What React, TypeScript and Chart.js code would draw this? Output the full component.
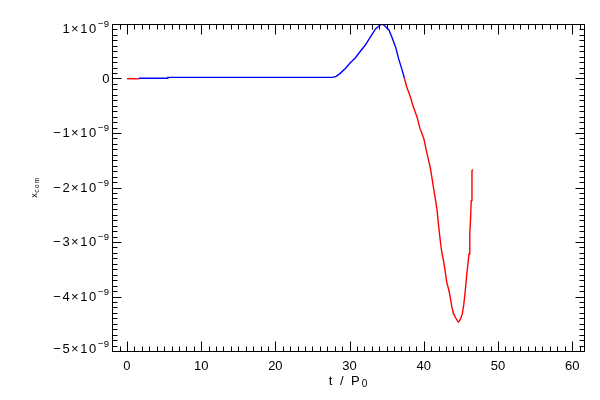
import { useEffect, useRef } from "react";
import { Chart, registerables } from "chart.js";

Chart.register(...registerables);

// time in units of P0
const T = [
  0, 1.6, 1.7, 5.4, 5.5, 27.7, 28.2, 28.7, 29.4, 30.1, 30.8, 31.4, 32.1, 32.8,
  33.5, 34.1, 34.4, 34.8, 35.3, 35.7, 36.2, 36.6, 37.1, 37.4, 37.7, 38.2, 38.6,
  39.1, 39.5, 40.0, 40.4, 40.9, 41.3, 41.6, 41.8, 42.0, 42.2, 42.4, 42.7, 42.9,
  43.1, 43.4, 43.6, 43.8, 44.0, 44.3, 44.6, 44.7, 44.9, 45.2, 45.4, 45.6, 45.8,
  46.1, 46.2, 46.3, 46.4, 46.5, 46.6,
];
// x_com in units of 1e-9
const XCOM = [
  -0.005, -0.005, 0.005, 0.005, 0.02, 0.02, 0.04, 0.09, 0.18, 0.29, 0.38, 0.49,
  0.61, 0.76, 0.91, 0.98, 1.0, 0.96, 0.89, 0.76, 0.58, 0.37, 0.15, 0, -0.15,
  -0.34, -0.52, -0.71, -0.92, -1.1, -1.35, -1.65, -1.99, -2.24, -2.42, -2.7,
  -2.94, -3.16, -3.37, -3.55, -3.74, -3.89, -4.04, -4.2, -4.31, -4.39, -4.46,
  -4.47, -4.43, -4.32, -4.14, -3.89, -3.59, -3.22, -2.85, -2.6, -2.24, -1.69,
  -1.67,
];
const UNIT = 1e-9;

const X_MIN = -2.02;
const X_MAX = 61.6;
const Y_MIN = -5e-9;
const Y_MAX = 1e-9;
const X_MAJOR = [0, 10, 20, 30, 40, 50, 60];
const Y_MAJOR_MANT = [1, 0, -1, -2, -3, -4, -5];

const FONT = "'Liberation Sans', Arial, sans-serif";

const idlAxes = {
  id: "idlAxes",
  afterDraw(chart: any) {
    const ctx: CanvasRenderingContext2D = chart.ctx;
    const { left, right, top, bottom } = chart.chartArea;
    const xs = chart.scales.x;
    const ys = chart.scales.y;
    const L = Math.round(left) + 0.5;
    const R = Math.round(right) + 0.5;
    const Tp = Math.round(top) + 0.5;
    const B = Math.round(bottom) + 0.5;
    ctx.save();
    ctx.strokeStyle = "#000";
    ctx.fillStyle = "#000";
    ctx.lineWidth = 1;
    ctx.beginPath();
    ctx.rect(L, Tp, R - L, B - Tp);
    // x ticks (minor every 1, major every 10)
    for (let v = Math.ceil(X_MIN); v <= Math.floor(X_MAX); v++) {
      const len = v % 10 === 0 ? 10 : 5;
      const px = Math.round(xs.getPixelForValue(v)) + 0.5;
      ctx.moveTo(px, B);
      ctx.lineTo(px, B - len);
      ctx.moveTo(px, Tp);
      ctx.lineTo(px, Tp + len);
    }
    // y ticks (minor every 1e-10, major every 1e-9)
    for (let k = -50; k <= 10; k++) {
      const len = k % 10 === 0 ? 9 : 5;
      const py = Math.round(ys.getPixelForValue(k * 1e-10)) + 0.5;
      ctx.moveTo(L, py);
      ctx.lineTo(L + len, py);
      ctx.moveTo(R, py);
      ctx.lineTo(R - len, py);
    }
    ctx.stroke();

    // x tick labels
    ctx.textAlign = "center";
    ctx.textBaseline = "alphabetic";
    ctx.font = `13px ${FONT}`;
    for (const v of X_MAJOR) {
      ctx.fillText(String(v), xs.getPixelForValue(v), bottom + 18.5);
    }

    // y tick labels with superscript exponent
    ctx.textAlign = "left";
    const rightEdge = left - 2.5;
    for (const m of Y_MAJOR_MANT) {
      const py = ys.getPixelForValue(m * UNIT);
      let base = py + 4.2;
      if (m === 1) base += 4.5;
      if (m === -5) base -= 1.8;
      if (m === 0) {
        ctx.font = `13px ${FONT}`;
        (ctx as any).letterSpacing = "0px";
        const w = ctx.measureText("0").width;
        ctx.fillText("0", rightEdge - w, base);
        continue;
      }
      const mant = (m < 0 ? "\u2212" + Math.abs(m) : String(m)) + "\u00d710";
      const sup = "\u22129";
      ctx.font = `13px ${FONT}`;
      (ctx as any).letterSpacing = "1.5px";
      const w1 = ctx.measureText(mant).width;
      ctx.font = `9.5px ${FONT}`;
      (ctx as any).letterSpacing = "0.5px";
      const w2 = ctx.measureText(sup).width;
      const x0 = rightEdge - w1 - w2;
      ctx.font = `13px ${FONT}`;
      (ctx as any).letterSpacing = "1.5px";
      ctx.fillText(mant, x0, base);
      ctx.font = `9.5px ${FONT}`;
      (ctx as any).letterSpacing = "0.5px";
      ctx.fillText(sup, x0 + w1, base - 6);
    }

    // x axis title: t / P0
    {
      ctx.font = `13px ${FONT}`;
      (ctx as any).letterSpacing = "2px";
      const main = "t / P";
      const w1 = ctx.measureText(main).width;
      ctx.font = `10px ${FONT}`;
      (ctx as any).letterSpacing = "0px";
      const w2 = ctx.measureText("0").width;
      const cx = (left + right) / 2;
      const x0 = cx - (w1 + w2) / 2;
      ctx.font = `13px ${FONT}`;
      (ctx as any).letterSpacing = "2px";
      ctx.fillText(main, x0, 385);
      ctx.font = `10px ${FONT}`;
      (ctx as any).letterSpacing = "0px";
      ctx.fillText("0", x0 + w1, 387.3);
    }

    // y axis title: x_com (rotated)
    {
      const cy = (top + bottom) / 2;
      ctx.translate(36.7, cy);
      ctx.rotate(-Math.PI / 2);
      ctx.font = `9px ${FONT}`;
      (ctx as any).letterSpacing = "0px";
      const w1 = ctx.measureText("x").width;
      ctx.font = `7px ${FONT}`;
      (ctx as any).letterSpacing = "1px";
      const w2 = ctx.measureText("com").width;
      const x0 = -(w1 + w2) / 2;
      ctx.font = `9px ${FONT}`;
      (ctx as any).letterSpacing = "0px";
      ctx.fillText("x", x0, 0);
      ctx.font = `7px ${FONT}`;
      (ctx as any).letterSpacing = "1px";
      ctx.fillText("com", x0 + w1 + 0.5, 2);
    }
    ctx.restore();
  },
};

export default function App() {
  const ref = useRef<HTMLCanvasElement | null>(null);
  useEffect(() => {
    document.body.style.margin = "0";
    document.body.style.background = "#fff";
    const canvas = ref.current;
    if (!canvas) return;
    const chart = new Chart(canvas, {
      type: "line",
      data: {
        datasets: [
          {
            data: T.map((t, i) => ({ x: t, y: XCOM[i] * UNIT })),
            borderColor: "#0000ff",
            borderWidth: 1.4,
            pointRadius: 0,
            fill: false,
            tension: 0,
            segment: {
              borderColor: (c: any) =>
                (c.p0.parsed.y + c.p1.parsed.y) / 2 < 0 ? "#ff0000" : "#0000ff",
            },
          },
        ],
      },
      options: {
        responsive: false,
        animation: false,
        devicePixelRatio: 1,
        layout: { padding: { left: 112, right: 16, top: 24, bottom: 49 } },
        plugins: {
          legend: { display: false },
          tooltip: { enabled: false },
          title: { display: false },
        },
        scales: {
          x: { type: "linear", min: X_MIN, max: X_MAX, display: false },
          y: { type: "linear", min: Y_MIN, max: Y_MAX, display: false },
        },
      },
      plugins: [idlAxes],
    });
    return () => chart.destroy();
  }, []);
  return (
    <div style={{ width: 600, height: 400, background: "#fff" }}>
      <canvas ref={ref} width={600} height={400} />
    </div>
  );
}
